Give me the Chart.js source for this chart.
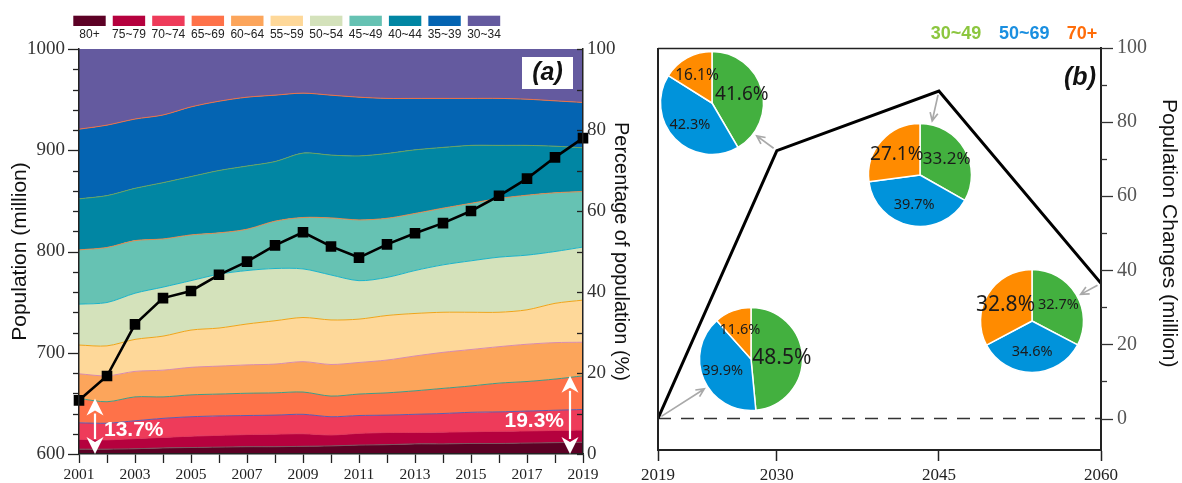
<!DOCTYPE html>
<html>
<head>
<meta charset="utf-8">
<script src="https://cdn.jsdelivr.net/npm/chart.js@4.4.0/dist/chart.umd.min.js"></script>
<style>
  html, body { margin: 0; padding: 0; background: #fff; }
  #wrap { position: relative; width: 1182px; height: 483px; overflow: hidden; background: #fff; }
  #left { position: absolute; left: 0; top: 0; }
  #right { position: absolute; left: 637px; top: 0; }
  .pie { position: absolute; }
</style>
</head>
<body>
<div id="wrap">
  <canvas id="left" width="637" height="483"></canvas>
  <canvas id="right" width="545" height="483"></canvas>
</div>
<script>
// ---------- (a) age structure 2001-2019 ----------
const years = [2001,2002,2003,2004,2005,2006,2007,2008,2009,2010,2011,2012,2013,2014,2015,2016,2017,2018,2019];
const ageGroups = ['80+','75~79','70~74','65~69','60~64','55~59','50~54','45~49','40~44','35~39','30~34'];

// share of each age group (%), bottom to top
const age80plus = [1.2,1.2,1.3,1.5,1.6,1.7,1.8,1.8,1.9,2.0,2.2,2.3,2.5,2.5,2.6,2.6,2.7,2.8,2.9];
const age75to79 = [2.4,2.3,2.5,2.6,2.8,2.9,3.0,3.1,3.1,2.7,2.9,3.0,2.8,2.9,2.9,3.0,3.0,3.0,3.0];
const age70to74 = [4.1,4.1,4.4,4.7,4.8,4.8,4.7,4.7,4.8,4.5,4.4,4.3,4.5,4.6,4.8,4.8,4.9,5.0,5.1];
const age65to69 = [6.0,5.3,5.9,5.3,5.4,5.4,5.5,5.5,5.5,5.1,5.3,5.5,5.8,6.2,6.5,7.1,7.3,7.7,8.3];
const age60to64 = [6.1,6.4,6.3,6.6,6.8,6.9,7.0,7.1,7.5,7.8,7.8,8.1,8.6,8.9,9.0,9.0,9.2,9.0,8.3];
const age55to59 = [7.1,7.4,7.9,8.4,9.2,9.4,10.1,10.7,10.9,11.0,10.7,11.0,10.5,9.9,9.2,8.5,8.5,9.7,10.4];
const age50to54 = [10.1,10.7,11.4,12.1,12.2,13.3,13.2,12.9,12.0,11.1,9.5,9.4,10.6,11.7,12.7,13.6,13.5,12.8,13.1];
const age45to49 = [13.4,13.6,13.0,11.9,11.3,10.2,10.2,11.7,12.7,14.1,15.0,14.6,14.1,14.0,14.2,14.5,14.8,14.5,13.7];
const age40to44 = [12.6,12.8,12.9,13.9,14.4,15.4,15.6,14.7,15.9,15.5,15.8,16.0,15.7,15.0,14.3,13.1,12.3,11.5,10.8];
const age35to39 = [17.2,17.4,17.1,16.7,17.2,17.1,17.0,16.4,14.8,14.8,14.5,13.6,12.7,12.1,11.6,11.6,11.4,11.2,11.2];
const age30to34 = [19.8,18.8,17.3,16.3,14.3,12.9,11.9,11.4,10.9,11.4,11.9,12.2,12.2,12.2,12.2,12.2,12.4,12.8,13.2];

// total population aged 30+ (million)
const population = [653,677,728,754,761,777,790,806,819,805,794,807,818,828,840,855,872,893,912];

// ---------- (b) projected changes ----------
const projYears = [2019, 2030, 2045, 2060];
const popChange = [0, 72.3, 88.4, 36.5];
const pieGroups = ['30~49', '50~69', '70+'];
const shares2019 = [48.5, 39.9, 11.6];
const shares2030 = [41.6, 42.3, 16.1];
const shares2045 = [33.2, 39.7, 27.1];
const shares2060 = [32.7, 34.6, 32.8];

// ---------- styling ----------
const areaColors = ['#5c0125','#b5013e','#ee3b5a','#fe7249','#fca55b','#fed899','#d4e2bb','#66c2b3','#0186a3','#0464b2','#645a9f'];
const edgeColors = ['#7d5560','#e2375a','#5b5fb0','#3f9d86','#d78cb0','#eea51b','#1cb3c9','#e0894f','#6aa35f','#f07143','rgba(0,0,0,0)'];
const pieColors = ['#43b03f', '#0093db', '#ff8b00'];
const pieTextColors = ['#8cc63f', '#1a8fe0', '#ff6d0a'];
const SERIF = '"Liberation Serif", "Times New Roman", serif';
const SANS = '"Liberation Sans", Arial, sans-serif';
const PIE_FONT = '"Noto Sans", "Open Sans", sans-serif';

Chart.defaults.animation = false;
Chart.defaults.plugins.legend.display = false;
Chart.defaults.plugins.tooltip.enabled = false;

function rotatedText(ctx, text, x, y, angle, font, color) {
  ctx.save();
  ctx.translate(x, y);
  ctx.rotate(angle);
  ctx.font = font;
  ctx.fillStyle = color;
  ctx.textAlign = 'center';
  ctx.textBaseline = 'middle';
  ctx.fillText(text, 0, 0);
  ctx.restore();
}

function yTicks(ctx, scale, from, to, step, isMajor, majorLen, minorLen, dir, x0, color) {
  ctx.save();
  ctx.strokeStyle = color;
  ctx.lineWidth = 1.3;
  for (let v = from; v <= to + 1e-9; v += step) {
    const y = Math.round(scale.getPixelForValue(v)) + 0.5;
    const len = isMajor(v) ? majorLen : minorLen;
    ctx.beginPath();
    ctx.moveTo(x0, y);
    ctx.lineTo(x0 + dir * len, y);
    ctx.stroke();
  }
  ctx.restore();
}

function whiteArrow(ctx, x, yTop, yBot) {
  const hw = 8.5, hh = 17;
  ctx.save();
  ctx.fillStyle = '#fff';
  ctx.strokeStyle = '#fff';
  ctx.lineWidth = 2.2;
  ctx.beginPath();
  ctx.moveTo(x, yTop + hh - 2);
  ctx.lineTo(x, yBot - hh + 2);
  ctx.stroke();
  ctx.beginPath();
  ctx.moveTo(x, yTop); ctx.lineTo(x - hw, yTop + hh); ctx.lineTo(x, yTop + hh - 5); ctx.lineTo(x + hw, yTop + hh);
  ctx.closePath(); ctx.fill();
  ctx.beginPath();
  ctx.moveTo(x, yBot); ctx.lineTo(x - hw, yBot - hh); ctx.lineTo(x, yBot - hh + 5); ctx.lineTo(x + hw, yBot - hh);
  ctx.closePath(); ctx.fill();
  ctx.restore();
}

// ---------- left panel decorations ----------
const leftDecor = {
  id: 'leftDecor',
  afterDraw(chart) {
    const ctx = chart.ctx;
    const area = chart.chartArea;
    const yPop = chart.scales.yPop;
    const yPct = chart.scales.yPct;
    const x = chart.scales.x;

    // axis ticks
    yTicks(ctx, yPop, 600, 1000, 20, v => v % 100 === 0, 11, 6, -1, area.left, '#222');
    yTicks(ctx, yPct, 0, 100, 10, () => true, 6, 6, -1, area.right, '#222');

    // legend row
    ctx.save();
    ctx.font = '12px ' + SANS;
    ctx.textAlign = 'center';
    ctx.textBaseline = 'middle';
    ageGroups.forEach((g, i) => {
      const bx = 73.3 + i * 39.45;
      ctx.fillStyle = areaColors[i];
      ctx.fillRect(bx, 15.7, 32.4, 10.3);
      ctx.fillStyle = '#222';
      ctx.fillText(g, bx + 16.2, 34.5);
    });
    ctx.restore();

    // 65+ share at the first and last year
    const old = i => age80plus[i] + age75to79[i] + age70to74[i] + age65to69[i];
    const first = 0, last = years.length - 1;
    const ax1 = x.getPixelForValue(first) + 16;
    const ax2 = x.getPixelForValue(last) - 13;
    const top1 = yPct.getPixelForValue(old(first)), top2 = yPct.getPixelForValue(old(last));
    const base = yPct.getPixelForValue(0);
    whiteArrow(ctx, ax1, top1, base);
    whiteArrow(ctx, ax2, top2, base);
    ctx.save();
    ctx.font = 'bold 21px ' + SANS;
    ctx.fillStyle = '#fff';
    ctx.textBaseline = 'middle';
    ctx.textAlign = 'left';
    ctx.fillText(old(first).toFixed(1) + '%', ax1 + 9, (top1 + base) / 2 + 4);
    ctx.textAlign = 'right';
    ctx.fillText(old(last).toFixed(1) + '%', ax2 - 6, (top2 + base) / 2 + 6);
    ctx.restore();

    // panel tag
    ctx.save();
    ctx.fillStyle = '#fff';
    ctx.fillRect(522, 57, 51, 32);
    ctx.font = 'italic bold 25px ' + SANS;
    ctx.fillStyle = '#111';
    ctx.textAlign = 'center';
    ctx.textBaseline = 'middle';
    ctx.fillText('(a)', 547.5, 73.5);
    ctx.restore();

    // axis titles
    rotatedText(ctx, 'Population (million)', 20, (area.top + area.bottom) / 2, -Math.PI / 2, '21px ' + SANS, '#111');
    rotatedText(ctx, 'Percentage of population (%)', 621, (area.top + area.bottom) / 2, Math.PI / 2, '20px ' + SANS, '#111');
  }
};

const areaSeries = [age80plus, age75to79, age70to74, age65to69, age60to64, age55to59, age50to54, age45to49, age40to44, age35to39, age30to34];
const areaSets = areaSeries.map((d, i) => ({
  label: ageGroups[i],
  data: d,
  yAxisID: 'yPct',
  stack: 'age',
  backgroundColor: areaColors[i],
  borderColor: edgeColors[i],
  borderWidth: 1,
  fill: i === 0 ? 'origin' : '-1',
  pointRadius: 0,
  pointHitRadius: 0,
  tension: 0.3
}));

new Chart(document.getElementById('left'), {
  type: 'line',
  data: {
    labels: years.map(String),
    datasets: [...areaSets, {
      label: 'Population',
      data: population,
      yAxisID: 'yPop',
      borderColor: '#000',
      borderWidth: 2.6,
      pointStyle: 'rect',
      pointRadius: 7.5,
      pointBackgroundColor: '#000',
      pointBorderColor: '#000',
      pointBorderWidth: 0,
      fill: false,
      tension: 0,
      order: -1
    }]
  },
  options: {
    responsive: false,
    layout: { padding: { left: 0, right: 0, top: 49, bottom: 0 } },
    scales: {
      x: {
        type: 'category',
        offset: false,
        grid: { display: true, drawOnChartArea: false, drawTicks: true, tickLength: 9, tickWidth: 1.3, tickColor: '#222' },
        border: { display: true, color: '#222', width: 1.5, z: 2 },
        ticks: {
          autoSkip: false, maxRotation: 0, padding: 3, color: '#222',
          font: { family: SERIF, size: 15.5 },
          callback(v) { const yr = years[v]; return yr % 2 === 1 ? String(yr) : ''; }
        },
        afterFit(s) { s.height = 29; }
      },
      yPop: {
        position: 'left', min: 600, max: 1000, stacked: false,
        grid: { display: true, drawOnChartArea: false, drawTicks: false },
        border: { display: true, color: '#222', width: 1.5, z: 2 },
        ticks: { stepSize: 100, padding: 14, color: '#333', font: { family: SERIF, size: 19 }, callback: v => String(v) },
        afterFit(s) { s.width = 79; }
      },
      yPct: {
        position: 'right', min: 0, max: 100, stacked: true,
        grid: { display: true, drawOnChartArea: false, drawTicks: false },
        border: { display: true, color: '#222', width: 1.5, z: 2 },
        ticks: { stepSize: 20, padding: 4, color: '#333', font: { family: SERIF, size: 19 }, callback: v => String(v) },
        afterFit(s) { s.width = 54; }
      }
    }
  },
  plugins: [leftDecor]
});

// ---------- right panel ----------
const RIGHT_LEFT = 637;
const pieSets = [
  { year: 2019, shares: shares2019, cx: 751, cy: 359, sizes: [21, 14.5, 14.5] },
  { year: 2030, shares: shares2030, cx: 712, cy: 103, sizes: [19, 14.5, 15.5] },
  { year: 2045, shares: shares2045, cx: 920, cy: 175, sizes: [17, 14.5, 19] },
  { year: 2060, shares: shares2060, cx: 1032, cy: 321, sizes: [14.5, 14.5, 21] }
];
const PIE_R = 51.5;

function grayArrow(ctx, x0, y0, x1, y1) {
  const a = Math.atan2(y1 - y0, x1 - x0);
  const h = 9;
  ctx.save();
  ctx.strokeStyle = '#a9a9a9';
  ctx.lineWidth = 1.7;
  ctx.beginPath();
  ctx.moveTo(x0, y0); ctx.lineTo(x1, y1);
  ctx.moveTo(x1 - h * Math.cos(a - 0.45), y1 - h * Math.sin(a - 0.45));
  ctx.lineTo(x1, y1);
  ctx.lineTo(x1 - h * Math.cos(a + 0.45), y1 - h * Math.sin(a + 0.45));
  ctx.stroke();
  ctx.restore();
}

const rightDecor = {
  id: 'rightDecor',
  afterDraw(chart) {
    const ctx = chart.ctx;
    const area = chart.chartArea;
    const xs = chart.scales.x, ys = chart.scales.y;

    // frame
    ctx.save();
    ctx.strokeStyle = '#222';
    ctx.lineWidth = 1.5;
    ctx.beginPath();
    ctx.moveTo(area.left, area.top + 0.5); ctx.lineTo(area.right, area.top + 0.5);
    ctx.stroke();
    ctx.lineWidth = 2;
    ctx.beginPath();
    ctx.moveTo(area.left, area.top); ctx.lineTo(area.left, area.bottom);
    ctx.stroke();
    ctx.restore();

    yTicks(ctx, ys, 0, 100, 10, v => v % 20 === 0, 12, 6, 1, area.right, '#333');

    // arrows from each projected point to its pie
    pieSets.forEach(p => {
      const i = projYears.indexOf(p.year);
      const px = xs.getPixelForValue(projYears[i]);
      const py = ys.getPixelForValue(popChange[i]);
      const cx = p.cx - RIGHT_LEFT, cy = p.cy;
      const d = Math.hypot(cx - px, cy - py);
      const ux = (cx - px) / d, uy = (cy - py) / d;
      const end = d - PIE_R - 4;
      grayArrow(ctx, px + ux * 4, py + uy * 4, px + ux * end, py + uy * end);
    });

    // group colour key
    ctx.save();
    ctx.font = 'bold 18px ' + SANS;
    ctx.textBaseline = 'middle';
    ctx.textAlign = 'left';
    const keyX = [930.7, 999, 1066.7];
    pieGroups.forEach((g, i) => {
      ctx.fillStyle = pieTextColors[i];
      ctx.fillText(g, keyX[i] - RIGHT_LEFT, 34.5);
    });
    ctx.font = 'italic bold 25px ' + SANS;
    ctx.fillStyle = '#111';
    ctx.textAlign = 'center';
    ctx.fillText('(b)', 1080 - RIGHT_LEFT, 78.5);
    ctx.restore();

    rotatedText(ctx, 'Population Changes (million)', 1169 - RIGHT_LEFT, ys.getPixelForValue(50), Math.PI / 2, '21px ' + SANS, '#111');
  }
};

new Chart(document.getElementById('right'), {
  type: 'line',
  data: {
    datasets: [{
      label: 'Population changes',
      data: projYears.map((yr, i) => ({ x: yr, y: popChange[i] })),
      borderColor: '#000',
      borderWidth: 3,
      pointRadius: 0,
      tension: 0
    }, {
      label: 'Zero',
      data: [{ x: projYears[0], y: 0 }, { x: projYears[projYears.length - 1], y: 0 }],
      borderColor: '#333',
      borderWidth: 1.5,
      borderDash: [13, 10],
      pointRadius: 0
    }]
  },
  options: {
    responsive: false,
    layout: { padding: { left: 17, right: 0, top: 48, bottom: 0 } },
    scales: {
      x: {
        type: 'linear', min: 2019, max: 2060,
        afterBuildTicks(s) { s.ticks = projYears.map(v => ({ value: v })); },
        grid: { display: true, drawOnChartArea: false, drawTicks: true, tickLength: 11, tickWidth: 1.5, tickColor: '#222' },
        border: { display: true, color: '#222', width: 2, z: 2 },
        ticks: { padding: 4, color: '#222', font: { family: SERIF, size: 17 }, callback: v => String(v) },
        afterFit(s) { s.height = 33; }
      },
      y: {
        position: 'right', min: -8.5, max: 100,
        afterBuildTicks(s) { s.ticks = [0, 20, 40, 60, 80, 100].map(v => ({ value: v })); },
        grid: { display: true, drawOnChartArea: false, drawTicks: false },
        border: { display: true, color: '#222', width: 2, z: 2 },
        ticks: { padding: 16, color: '#555', font: { family: SERIF, size: 20 }, callback: v => String(v) },
        afterFit(s) { s.width = 81; }
      }
    }
  },
  plugins: [rightDecor]
});

// ---------- pies ----------
const pieLabels = {
  id: 'pieLabels',
  afterDatasetsDraw(chart, args, opts) {
    const ctx = chart.ctx;
    const meta = chart.getDatasetMeta(0);
    const values = chart.data.datasets[0].data;
    ctx.save();
    ctx.fillStyle = '#1b1b1b';
    ctx.textAlign = 'center';
    ctx.textBaseline = 'middle';
    meta.data.forEach((arc, i) => {
      const mid = (arc.startAngle + arc.endAngle) / 2;
      const r = arc.outerRadius * 0.6;
      ctx.font = opts.sizes[i] + 'px ' + PIE_FONT;
      ctx.fillText(values[i].toFixed(1) + '%', arc.x + Math.cos(mid) * r, arc.y + Math.sin(mid) * r);
    });
    ctx.restore();
  }
};

const wrap = document.getElementById('wrap');
pieSets.forEach(p => {
  const size = 160;
  const c = document.createElement('canvas');
  c.width = size; c.height = size;
  c.className = 'pie';
  c.style.left = (p.cx - size / 2) + 'px';
  c.style.top = (p.cy - size / 2) + 'px';
  wrap.appendChild(c);
  new Chart(c, {
    type: 'pie',
    data: {
      labels: pieGroups,
      datasets: [{ data: p.shares, backgroundColor: pieColors, borderColor: '#fff', borderWidth: 1.5, radius: PIE_R }]
    },
    options: {
      responsive: false,
      layout: { padding: 0 },
      plugins: { pieLabels: { sizes: p.sizes } }
    },
    plugins: [pieLabels]
  });
});
</script>
</body>
</html>
